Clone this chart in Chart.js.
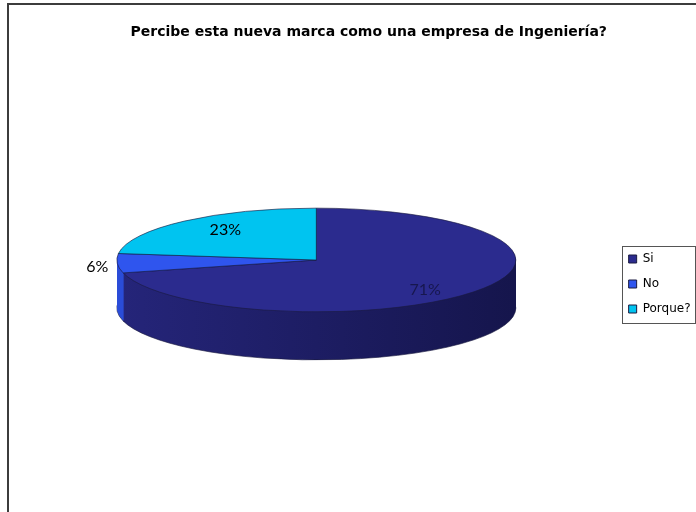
<!DOCTYPE html>
<html>
<head>
<meta charset="utf-8">
<title>Percibe esta nueva marca</title>
<script src="https://cdn.jsdelivr.net/npm/chart.js@4.4.1/dist/chart.umd.min.js"></script>
<style>
  html, body { margin: 0; padding: 0; background: #fff; overflow: hidden; }
  #wrap { position: relative; width: 696px; height: 512px; overflow: hidden; }
  #frame { position: absolute; left: 7px; top: 3px; width: 800px; height: 600px;
           border: 2px solid #3c3c3c; box-sizing: border-box; }
  canvas { position: absolute; left: 0; top: 0; }
</style>
</head>
<body>
<div id="wrap">
  <div id="frame"></div>
  <canvas id="chart" width="738" height="512"></canvas>
</div>
<script>
const chartTitle = 'Percibe esta nueva marca como una empresa de Ingeniería?';
const labels = ['Si', 'No', 'Porque?'];
const values = [71, 6, 23];

// face / wall colours per slice
const faceColors = ['#2B2B8E', '#2F55EE', '#00C4F0'];
const wallColors = [['#25257A', '#15154C'], ['#2A4CD8', '#2A4CD8'], ['#00A8D0', '#00A8D0']];
const labelColors = ['#17174E', '#000', '#000'];

const TILT = 0.26;   // vertical squash of the disc face
const DEPTH = 48;    // disc thickness in px

function squash(ctx, cx, cy) {
  ctx.translate(cx, cy);
  ctx.scale(1, TILT);
  ctx.translate(-cx, -cy);
}

// draw an arc element with some options swapped out
function drawWith(arc, ctx, opts) {
  const saved = arc.options;
  arc.options = Object.assign({}, saved, opts);
  arc.draw(ctx);
  arc.options = saved;
}

const pie3d = {
  id: 'pie3d',
  beforeDatasetsDraw(chart) {
    const ctx = chart.ctx;
    const arcs = chart.getDatasetMeta(0).data;
    const { x: cx, y: cy, outerRadius: r } = arcs[0];
    const fills = wallColors.map(([a, b]) => {
      const g = ctx.createLinearGradient(cx - r, 0, cx + r, 0);
      g.addColorStop(0, a);
      g.addColorStop(1, b);
      return g;
    });
    // side wall: stack the slices downwards, deepest first
    for (let d = DEPTH; d > 0; d--) {
      ctx.save();
      ctx.translate(0, d);
      squash(ctx, cx, cy);
      arcs.forEach((arc, i) => drawWith(arc, ctx, {
        backgroundColor: fills[i],
        borderWidth: d === DEPTH ? 1 : 0
      }));
      ctx.restore();
    }
    // top face is drawn by chart.js inside this transform
    ctx.save();
    squash(ctx, cx, cy);
  },
  afterDatasetsDraw(chart) {
    const ctx = chart.ctx;
    ctx.restore();

    const arcs = chart.getDatasetMeta(0).data;
    const total = values.reduce((a, b) => a + b, 0);
    ctx.save();
    ctx.font = '16px Lato';
    ctx.textAlign = 'center';
    ctx.textBaseline = 'middle';
    arcs.forEach((arc, i) => {
      const mid = (arc.startAngle + arc.endAngle) / 2;
      const pct = Math.round(values[i] / total * 100);
      const outside = pct < 10;
      const fx = outside ? 1.1 : 0.69;
      const fy = outside ? 1.1 : 0.85;
      const x = arc.x + Math.cos(mid) * arc.outerRadius * fx;
      const y = arc.y + Math.sin(mid) * arc.outerRadius * TILT * fy + 3;
      ctx.fillStyle = labelColors[i];
      ctx.fillText(pct + '%', x, y);
    });
    ctx.restore();
  }
};

// title sits centred on the wider frame, legend level with the disc rim
const nudge = {
  id: 'nudge',
  afterLayout(chart) {
    chart.titleBlock.left += 10;
    chart.titleBlock.right += 10;
    chart.legend.top += 24;
    chart.legend.bottom += 24;
  }
};

const legendFrame = {
  id: 'legendFrame',
  afterDraw(chart) {
    const boxes = chart.legend.legendHitBoxes;
    if (!boxes || !boxes.length) return;
    const left = Math.min(...boxes.map(b => b.left)) - 7;
    const top = Math.min(...boxes.map(b => b.top)) - 7;
    const right = Math.max(...boxes.map(b => b.left + b.width)) + 4;
    const bottom = Math.max(...boxes.map(b => b.top + b.height)) + 8;
    const ctx = chart.ctx;
    ctx.save();
    ctx.strokeStyle = '#555';
    ctx.lineWidth = 1;
    ctx.strokeRect(Math.round(left) + 0.5, Math.round(top) + 0.5,
                   Math.round(right - left), Math.round(bottom - top));
    ctx.restore();
  }
};

new Chart(document.getElementById('chart'), {
  type: 'pie',
  data: {
    labels: labels,
    datasets: [{
      data: values,
      backgroundColor: faceColors,
      borderColor: '#1a1a40',
      borderWidth: 1
    }]
  },
  options: {
    responsive: false,
    animation: false,
    events: [],
    layout: { padding: { left: 17, right: 37.5, top: 0, bottom: 52 } },
    plugins: {
      title: {
        display: true,
        text: chartTitle,
        color: '#000',
        font: { family: 'DejaVu Sans', size: 14, weight: 'bold', lineHeight: 1.2 },
        padding: { top: 23.6, bottom: 19.6 }
      },
      legend: {
        position: 'right',
        fullSize: false,
        labels: {
          color: '#000',
          font: { family: 'DejaVu Sans', size: 12 },
          boxWidth: 8,
          boxHeight: 8,
          padding: 13
        }
      },
      tooltip: { enabled: false }
    }
  },
  plugins: [pie3d, nudge, legendFrame]
});
</script>
</body>
</html>
